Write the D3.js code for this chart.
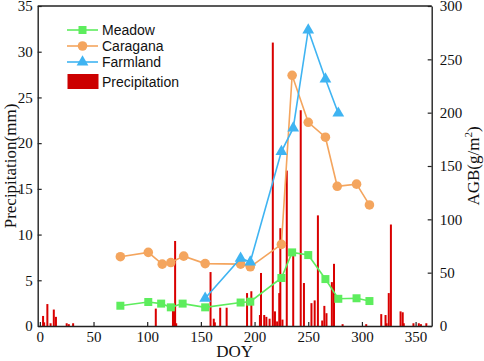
<!DOCTYPE html>
<html><head><meta charset="utf-8">
<script src="https://cdn.jsdelivr.net/npm/d3@7"></script>
<style>body{margin:0;background:#fff}svg{display:block}</style>
</head><body>
<svg id="c" width="484" height="361"></svg>
<script>
// ---- data ----
const barDoy = [3,4,7,10,13,15,25,27,31,108,124,125,126,127,159,162,163,168,174,193,197,205,206,209,211,214,217,219,221,223,224,226,230,236,243,246,253,256,259,263,265,267,272,274,282,304,318,322,323,325,327,336,338,339,348,353,355,360];
const barMm  = [1.1,0.4,2.4,0.3,1.8,1.0,0.3,0.2,0.3,1.9,1.7,2.0,9.3,0.3,5.9,0.8,0.4,2.0,2.0,3.6,3.8,1.2,5.8,1.2,1.0,0.8,31.0,1.6,0.5,3.6,10.7,0.7,17.0,7.9,23.6,4.7,2.5,2.8,12.1,0.6,2.2,1.4,4.8,6.8,0.2,0.2,1.3,1.2,0.3,3.6,11.1,1.6,1.5,0.3,0.3,0.3,0.2,0.3];
const meadowDoy = [75,101,113,122,133,154,187,196,225,235,250,266,278,295,307];
const meadowAgb = [19,22.5,21,17.5,21,17.5,22,22.8,45,69,66.5,44,25.5,26,23.4];
const caraganaDoy = [75,101,114,122,134,154,187,196,225,235,250,266,277,295,307];
const caraganaAgb = [65,69,58,59.5,65.5,58.5,58,55.5,76.5,235,191,177,131,133,113.5];
const farmlandDoy = [154,187,196,225,236,250,266,278];
const farmlandAgb = [26,63.5,60,163.5,185.5,277.5,231.5,199.5];
const xTicks = [0,50,100,150,200,250,300,350];
const yLeftTicks = [0,5,10,15,20,25,30,35];
const yRightTicks = [0,50,100,150,200,250,300];
const legendNames = ["Meadow","Caragana","Farmland","Precipitation"];

// ---- layout ----
const L = 37.7, R = 431.7, T = 6, B = 326;
const svg = d3.select("#c");
const x = d3.scaleLinear().domain([-2, 365]).range([L, R]);
const yL = d3.scaleLinear().domain([0, 35]).range([B, T]);
const yR = d3.scaleLinear().domain([0, 300]).range([B, T]);
const serif = "'Liberation Serif','Times New Roman',Times,serif";
const sans = "'Liberation Sans',Arial,sans-serif";
const colors = {Meadow:"#5ded5d", Caragana:"#f4a55e", Farmland:"#3fb4f2"};
const barColor = "#d90000";

// bars
svg.append("g").selectAll("rect").data(barDoy.map((d,i)=>({d, v:barMm[i]}))).join("rect")
  .attr("x", p => x(p.d) - 1).attr("width", 2)
  .attr("y", p => yL(p.v)).attr("height", p => B - yL(p.v))
  .attr("fill", barColor);

// series
const series = [
  {name:"Meadow", doy:meadowDoy, v:meadowAgb, shape:d3.symbolSquare, size:64},
  {name:"Caragana", doy:caraganaDoy, v:caraganaAgb, shape:d3.symbolCircle, size:72},
  {name:"Farmland", doy:farmlandDoy, v:farmlandAgb, shape:d3.symbolTriangle, size:60}
];
const line = d3.line().x(p=>x(p[0])).y(p=>yR(p[1]));
series.forEach(s => {
  const pts = s.doy.map((d,i)=>[d, s.v[i]]);
  svg.append("path").attr("d", line(pts)).attr("fill","none")
    .attr("stroke", colors[s.name]).attr("stroke-width", 1.6);
  svg.append("g").selectAll("path").data(pts).join("path")
    .attr("transform", p => `translate(${x(p[0])},${yR(p[1])})`)
    .attr("d", d3.symbol().type(s.shape).size(s.size))
    .attr("fill", colors[s.name]);
});

// axes
const axisStyle = g => {
  g.attr("font-family", null).attr("font-size", null);
  g.selectAll(".domain").attr("stroke","#222").attr("stroke-width",1.4);
  g.selectAll(".tick line").attr("stroke","#222").attr("stroke-width",1.2);
  g.selectAll("text").style("font-family", serif).style("font-size", "15px").attr("fill","#111");
};
svg.append("g").attr("transform",`translate(0,${B})`)
  .call(d3.axisBottom(x).tickValues(xTicks).tickSizeInner(-4).tickSizeOuter(0).tickPadding(5))
  .call(axisStyle);
svg.append("g").attr("transform",`translate(${L},0)`)
  .call(d3.axisLeft(yL).tickValues(yLeftTicks).tickSizeInner(-4).tickSizeOuter(0).tickPadding(5))
  .call(axisStyle);
svg.append("g").attr("transform",`translate(${R},0)`)
  .call(d3.axisRight(yR).tickValues(yRightTicks).tickSizeInner(-4).tickSizeOuter(0).tickPadding(8))
  .call(axisStyle);
svg.append("line").attr("x1",L).attr("x2",R).attr("y1",T).attr("y2",T)
  .attr("stroke","#222").attr("stroke-width",1.4);

// axis titles
svg.append("text").attr("x", (L+R)/2).attr("y", 357).attr("text-anchor","middle")
  .style("font-family", serif).style("font-size", "17px").attr("fill","#111").text("DOY");
svg.append("text").attr("transform",`translate(16,${(T+B)/2}) rotate(-90)`).attr("text-anchor","middle")
  .style("font-family", serif).style("font-size", "17px").attr("fill","#111").text("Precipitation(mm)");
const rt = svg.append("text").attr("transform",`translate(479,${(T+B)/2}) rotate(-90)`).attr("text-anchor","middle")
  .style("font-family", serif).style("font-size", "17px").attr("fill","#111");
rt.append("tspan").text("AGB(g/m");
rt.append("tspan").style("font-size","11px").attr("dy",-7).text("2");
rt.append("tspan").attr("dy",7).text(")");

// legend
const lg = svg.append("g");
const rowY = [30, 46, 62, 82];
series.forEach((s,i) => {
  lg.append("line").attr("x1",67).attr("x2",98).attr("y1",rowY[i]).attr("y2",rowY[i])
    .attr("stroke", colors[s.name]).attr("stroke-width",1.6);
  lg.append("path").attr("transform",`translate(82.5,${rowY[i]})`)
    .attr("d", d3.symbol().type(s.shape).size(s.size)).attr("fill", colors[s.name]);
});
lg.append("rect").attr("x",67.5).attr("y",74).attr("width",31).attr("height",15).attr("fill","#cc0000");
legendNames.forEach((n,i) => {
  lg.append("text").attr("x",102).attr("y",rowY[i]+5).style("font-family",sans)
    .style("font-size","14px").attr("fill","#111").text(n);
});
</script>
</body></html>
